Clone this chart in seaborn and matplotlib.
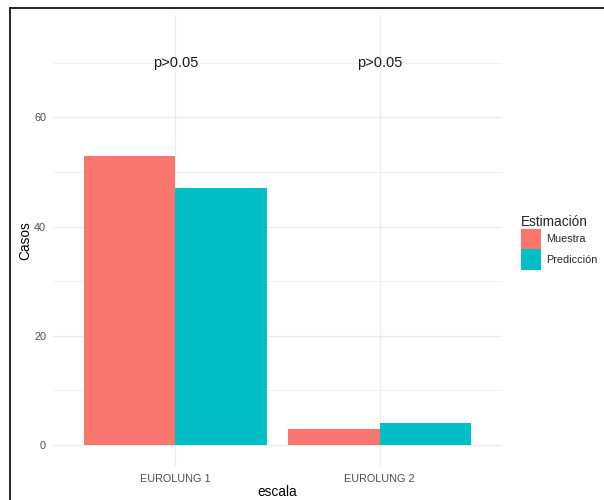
import matplotlib
matplotlib.use("Agg")
import matplotlib.pyplot as plt
import seaborn as sns
import pandas as pd
from matplotlib.lines import Line2D
from matplotlib.patches import Patch
from matplotlib.ticker import MultipleLocator

categories = ["EUROLUNG 1", "EUROLUNG 2"]
series_names = ["Muestra", "Predicción"]
muestra = [53, 3]
prediccion = [47, 4]
p_labels = ["p>0.05", "p>0.05"]
p_y = 70
colors = ["#F8766D", "#00BFC4"]

df = pd.DataFrame({
    "escala": categories * 2,
    "Casos": muestra + prediccion,
    "Estimación": [series_names[0]] * 2 + [series_names[1]] * 2,
})

sns.set_style("white")
plt.rcParams["font.family"] = ["Liberation Sans", "DejaVu Sans"]

fig = plt.figure(figsize=(6.04, 5.0), dpi=100)
ax = fig.add_axes([53/604, 34.5/500, (502-53)/604, (465.5-15)/500])

sns.barplot(data=df, x="escala", y="Casos", hue="Estimación", order=categories,
            hue_order=series_names, palette=colors, width=0.9, ax=ax,
            saturation=1, errorbar=None, legend=False, linewidth=0)

ax.set_xlim(-0.6, 1.6)
ax.set_ylim(-3.75, 78.75)
ax.set_yticks([0, 20, 40, 60])
ax.yaxis.set_minor_locator(MultipleLocator(10))
ax.set_axisbelow(True)
ax.grid(which="major", color="#EBEBEB", linewidth=0.9)
ax.grid(which="minor", axis="y", color="#EFEFEF", linewidth=0.6)
for s in ax.spines.values():
    s.set_visible(False)
ax.tick_params(axis="both", which="both", length=0, colors="#4D4D4D", labelsize=7.8)
ax.tick_params(axis="x", pad=6)
ax.tick_params(axis="y", pad=5)
ax.set_xlabel("escala", fontsize=9.8, color="black", labelpad=1)
ax.set_ylabel("Casos", fontsize=9.8, color="black", labelpad=1)

for i, lab in enumerate(p_labels):
    ax.text(i, p_y, lab, ha="center", va="center", fontsize=10.5, color="#1a1a1a")

handles = [Patch(facecolor=c, edgecolor="none") for c in colors]
leg = fig.legend(handles, series_names, title="Estimación", loc="upper left",
                 bbox_to_anchor=(511/604, 1 - 205/500), frameon=False,
                 fontsize=7.8, title_fontsize=9.8, handlelength=1.9, handleheight=2.55,
                 handletextpad=0.45, labelspacing=0.0, alignment="left")

fig.add_artist(Line2D([10/604, 1], [1 - 7.5/500, 1 - 7.5/500], color="black", linewidth=1.2))
fig.add_artist(Line2D([10/604, 10/604], [0, 1 - 7.5/500], color="black", linewidth=1.2))

fig.savefig("out.png", dpi=100)
